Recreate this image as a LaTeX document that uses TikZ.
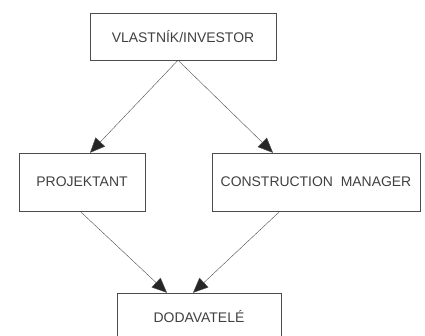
\documentclass[tikz,border=0pt]{standalone}
\usepackage{fontspec}
\setmainfont{Liberation Sans}
\usepackage{tikz}
\usetikzlibrary{arrows.meta}

\begin{document}
\begin{tikzpicture}[x=1bp,y=-1bp,thin,>={Triangle[length=15bp,width=13bp,fill=black!85]},
	every node/.style={font=\fontsize{14}{16}\selectfont, text=black!75},
	box/.style={draw=black!70, inner sep=0pt}]
		\useasboundingbox (0,0) rectangle (425,336);
		\node[box, minimum width=186bp, minimum height=47bp] (investor) at (183,36.5) {VLASTNÍK/INVESTOR};
		\node[box, minimum width=126bp, minimum height=58bp] (projektant) at (82,182) {PROJEKTANT};
		\node[box, minimum width=208bp, minimum height=58bp] (cm) at (316,182) {CONSTRUCTION\ \ MANAGER};
		\node[box, minimum width=164bp, minimum height=48bp] (dodavatele) at (199,317) {DODAVATELÉ};
		\coordinate (iout) at (investor.south -| 178,0);
		\draw[->, draw=black!70] (iout) -- (projektant.north -| 90,0);	\draw[->, draw=black!70] (iout) -- (cm.north -| 273,0);
		\draw[->, draw=black!70] (projektant.south -| 80,0) -- (dodavatele.north -| 167,0);
		\draw[->, draw=black!70] (cm.south -| 280,0) -- (dodavatele.north -| 193,0);
	\end{tikzpicture}
\end{document}
